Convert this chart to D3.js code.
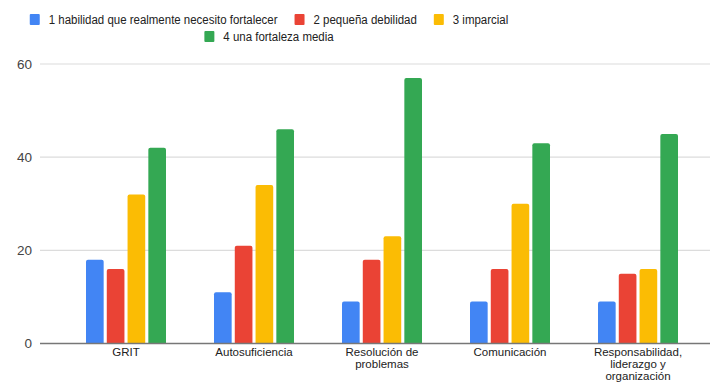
<!DOCTYPE html>
<html>
<head>
<meta charset="utf-8">
<script src="https://cdn.jsdelivr.net/npm/d3@7"></script>
<style>
  body { margin: 0; background: #fff; }
  text { font-family: Arial, "Liberation Sans", sans-serif; }
</style>
</head>
<body>
<script>
// categories and series
var categories = ["GRIT", "Autosuficiencia", "Resolución de problemas", "Comunicación", "Responsabilidad, liderazgo y organización"];
var categoryLines = [["GRIT"], ["Autosuficiencia"], ["Resolución de", "problemas"], ["Comunicación"], ["Responsabilidad,", "liderazgo y", "organización"]];
var seriesNames = ["1 habilidad que realmente necesito fortalecer", "2 pequeña debilidad", "3 imparcial", "4 una fortaleza media"];
var seriesColors = ["#4285F4", "#EA4335", "#FBBC04", "#34A853"];
var s1 = [18, 11, 9, 9, 9];
var s2 = [16, 21, 18, 16, 15];
var s3 = [32, 34, 23, 30, 16];
var s4 = [42, 46, 57, 43, 45];
var yTicks = [0, 20, 40, 60];

var allSeries = [s1, s2, s3, s4];

var w = 710, h = 382;
var svg = d3.select("body").append("svg")
    .attr("width", w)
    .attr("height", h);

var x0 = d3.scaleBand()
    .domain(categories)
    .range([62, 702])
    .paddingInner(0.375)
    .paddingOuter(0.1875);

var x1 = d3.scaleBand()
    .domain(d3.range(seriesNames.length))
    .range([0, x0.bandwidth()])
    .paddingInner(0.15);

var y = d3.scaleLinear().domain([0, 60]).range([343.5, 64]);

// gridlines
svg.append("g")
    .selectAll("line")
    .data(yTicks.filter(function(t){ return t != 0; }))
    .enter().append("line")
    .attr("x1", 40)
    .attr("x2", w)
    .attr("y1", function(d){ return y(d); })
    .attr("y2", function(d){ return y(d); })
    .attr("stroke", "#dcdcdc")
    .attr("stroke-width", 1.2);

// y axis labels
var yAxis = d3.axisLeft(y).tickValues(yTicks).tickSize(0).tickPadding(8);
var gy = svg.append("g")
    .attr("transform", "translate(40,0)")
    .call(yAxis);
gy.select(".domain").remove();
gy.selectAll("text")
    .attr("font-size", "13.5px")
    .attr("fill", "#444")
    .attr("font-family", "Arial, 'Liberation Sans', sans-serif");

// bars
var groups = svg.append("g")
    .selectAll("g")
    .data(categories)
    .enter().append("g")
    .attr("transform", function(d){ return "translate(" + x0(d) + ",0)"; });

groups.selectAll("path")
    .data(function(d, i){
        return allSeries.map(function(s, j){ return {s: j, v: s[i]}; });
    })
    .enter().append("path")
    .attr("fill", function(d){ return seriesColors[d.s]; })
    .attr("d", function(d){
        var bx = x1(d.s), bw = x1.bandwidth(), top = y(d.v), bot = y(0), r = 2;
        return "M" + bx + "," + bot +
               "V" + (top + r) +
               "Q" + bx + "," + top + " " + (bx + r) + "," + top +
               "H" + (bx + bw - r) +
               "Q" + (bx + bw) + "," + top + " " + (bx + bw) + "," + (top + r) +
               "V" + bot + "Z";
    });

// baseline
svg.append("line")
    .attr("x1", 40)
    .attr("x2", w)
    .attr("y1", y(0))
    .attr("y2", y(0))
    .attr("stroke", "#777")
    .attr("stroke-width", 1.5);

// x labels
categories.forEach(function(c, i){
    var t = svg.append("text")
        .attr("x", x0(c) + x0.bandwidth() / 2)
        .attr("y", 356)
        .attr("text-anchor", "middle")
        .attr("font-size", "11.5px")
        .attr("fill", "#222");
    categoryLines[i].forEach(function(line, k){
        t.append("tspan")
            .attr("x", x0(c) + x0.bandwidth() / 2)
            .attr("dy", k == 0 ? 0 : 12)
            .text(line);
    });
});

// legend, two rows centred; text is a bit condensed like the original
var legendRows = [[0, 1, 2], [3]];
var legendCenter = 269;
var squeeze = 0.85;
legendRows.forEach(function(row, r){
    var g = svg.append("g");
    var xpos = 0;
    row.forEach(function(si, k){
        g.append("rect")
            .attr("x", xpos)
            .attr("y", -10)
            .attr("width", 10)
            .attr("height", 11)
            .attr("rx", 1)
            .attr("fill", seriesColors[si]);
        var t = g.append("text")
            .attr("transform", "translate(" + (xpos + 19) + ",0) scale(" + squeeze + ",1)")
            .attr("font-size", "13.5px")
            .attr("fill", "#222")
            .text(seriesNames[si]);
        xpos += 19 + t.node().getComputedTextLength() * squeeze;
        if (k < row.length - 1) xpos += 17;
    });
    g.attr("transform", "translate(" + (legendCenter - xpos / 2) + "," + (24 + r * 17) + ")");
});
</script>
</body>
</html>
